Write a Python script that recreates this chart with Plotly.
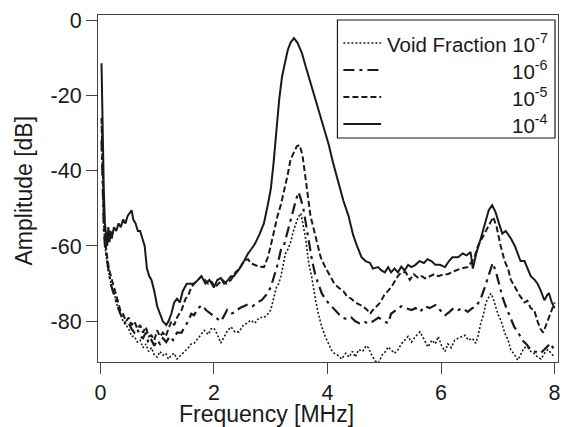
import plotly.graph_objects as go

# ---------------- data ----------------
f_e4 = [0.02,0.04,0.06,0.08,0.10,0.12,0.14,0.16,0.18,0.20,0.24,0.28,0.32,0.36,0.40,0.44,0.48,0.52,0.55,0.58,
        0.62,0.66,0.70,0.74,0.78,0.82,0.86,0.90,0.95,1.00,1.05,1.10,1.16,1.20,1.25,1.30,1.35,1.40,1.45,1.52,
        1.58,1.65,1.72,1.78,1.85,1.92,2.00,2.06,2.12,2.18,2.25,2.30,2.35,2.40,2.45,2.53,2.60,2.65,2.72,2.80,
        2.88,2.95,3.00,3.05,3.10,3.15,3.20,3.25,3.30,3.35,3.41,3.47,3.55,3.61,3.67,3.75,3.84,3.93,4.02,4.10,
        4.19,4.28,4.37,4.45,4.52,4.60,4.67,4.75,4.80,4.89,4.95,5.01,5.07,5.12,5.18,5.24,5.30,5.36,5.42,5.48,
        5.55,5.62,5.70,5.76,5.83,5.90,5.98,6.07,6.14,6.20,6.30,6.38,6.45,6.52,6.56,6.62,6.70,6.77,6.84,6.90,
        6.96,7.02,7.08,7.14,7.23,7.30,7.40,7.47,7.53,7.58,7.65,7.70,7.76,7.82,7.87,7.90,7.95,8.00]
a_e4 = [-11.5,-30,-45,-54,-57,-60,-55,-59,-56,-58,-55,-56,-54,-55,-53,-54,-52,-51,-50.5,-53,
        -54,-56,-56,-58,-60,-66,-68,-69,-72,-76,-78,-80,-81,-80,-78,-75,-74,-75,-72,-70,
        -70,-70,-69,-68,-70,-69,-71,-69,-68.5,-70,-69,-68,-68,-67,-66,-64,-62,-61,-59.5,-57,
        -54,-49,-45,-38,-29,-21,-15,-11,-8,-6,-4.8,-6,-8.8,-12,-15,-19,-24,-28,-33,-38,
        -43,-48,-52,-57,-60,-63,-64,-64.5,-66,-65.6,-66.5,-67,-65.6,-67,-66,-67,-65.5,-66.5,-65,-65.6,
        -65,-64,-64.5,-63.5,-64,-65,-65,-65.6,-64,-63,-63,-62,-62.5,-61.6,-66,-62,-58,-54,-50.5,-49.2,
        -51,-54,-56.7,-56,-58,-60,-64,-64,-66.5,-68,-69,-70,-72,-74.4,-73,-72.5,-75,-76.5]

f_e5 = [0.02,0.04,0.06,0.08,0.10,0.12,0.15,0.18,0.22,0.26,0.30,0.35,0.40,0.45,0.50,0.55,0.60,0.65,0.70,0.75,
        0.80,0.85,0.90,0.95,1.00,1.05,1.10,1.15,1.20,1.25,1.30,1.35,1.43,1.50,1.55,1.60,1.65,1.72,1.78,1.84,
        1.90,1.96,2.02,2.08,2.15,2.22,2.30,2.38,2.45,2.53,2.60,2.65,2.72,2.80,2.88,2.95,3.00,3.05,3.12,3.18,
        3.23,3.30,3.35,3.41,3.46,3.51,3.56,3.61,3.66,3.70,3.75,3.81,3.88,3.96,4.05,4.12,4.19,4.28,4.35,4.42,
        4.49,4.56,4.62,4.70,4.75,4.80,4.86,4.93,5.00,5.06,5.12,5.18,5.24,5.30,5.38,5.45,5.52,5.60,5.66,5.72,
        5.80,5.88,5.95,6.05,6.12,6.18,6.26,6.35,6.47,6.55,6.60,6.65,6.72,6.80,6.85,6.92,6.98,7.05,7.12,7.18,
        7.23,7.30,7.38,7.47,7.52,7.58,7.64,7.70,7.75,7.80,7.85,7.90,7.96,8.00]
a_e5 = [-26,-40,-52,-58,-61,-63,-66,-68,-70,-72,-74,-77,-78,-80,-79,-81,-80,-82,-81,-83,
        -81.5,-84,-83.7,-85,-82.4,-84,-83,-84,-82,-80,-81,-79,-77,-74,-73,-71,-70,-69,-68,-69,
        -70,-69.5,-71,-70,-69,-70,-69,-67,-66,-64,-63.5,-64.6,-65,-65.5,-65.6,-63,-60,-56.6,-52,-49,
        -46,-41,-37,-35,-33.5,-33.2,-36,-41.6,-47,-52,-55,-59,-63,-65.6,-68,-70,-71,-72,-73.5,-74,
        -75,-75.5,-76,-77,-78,-77,-76,-75,-73,-72,-71,-69.5,-68,-67,-67,-69,-67.5,-68.5,-68,-68.6,
        -68,-67.5,-68,-67.5,-67.5,-67,-66.5,-66,-65.6,-64,-62.5,-60,-58,-55.5,-54,-52.3,-55,-60,-64,-66,
        -69,-71,-73,-75,-74.5,-76.5,-77,-80,-82,-83,-81,-79,-77,-75]

f_e6 = [0.02,0.04,0.06,0.08,0.10,0.12,0.15,0.18,0.22,0.26,0.30,0.35,0.40,0.45,0.50,0.55,0.60,0.65,0.70,0.75,
        0.80,0.85,0.90,0.95,1.00,1.05,1.10,1.16,1.22,1.28,1.35,1.43,1.48,1.55,1.60,1.65,1.72,1.79,1.86,1.95,
        2.05,2.12,2.18,2.23,2.30,2.38,2.45,2.53,2.60,2.68,2.76,2.84,2.92,3.00,3.06,3.12,3.18,3.23,3.30,3.35,
        3.40,3.45,3.49,3.53,3.58,3.63,3.67,3.73,3.79,3.85,3.90,3.98,4.07,4.15,4.25,4.35,4.42,4.49,4.56,4.64,
        4.72,4.80,4.90,5.00,5.07,5.12,5.20,5.30,5.38,5.48,5.55,5.63,5.72,5.80,5.90,5.98,6.07,6.15,6.22,6.30,
        6.38,6.47,6.55,6.62,6.70,6.77,6.84,6.91,6.97,7.03,7.08,7.14,7.22,7.29,7.36,7.43,7.50,7.58,7.65,7.75,
        7.82,7.88,7.93,7.97,8.00]
a_e6 = [-32,-45,-55,-60,-62,-65,-67,-70,-72,-74,-76,-78,-79,-81,-80.5,-82,-83,-82,-84,-84.5,
        -83,-86,-85,-86.5,-85,-86,-84.5,-85.5,-84,-85,-83,-83,-81.5,-80,-78,-78.4,-76.5,-75.7,-77,-78,
        -79,-80,-78.5,-77,-78,-77.5,-76.5,-76,-75.5,-76,-75,-74.4,-73,-71,-68,-65,-61,-60,-56,-53,
        -50.5,-47.5,-45.7,-47.5,-50.5,-55,-59,-64,-68,-70.5,-72.6,-74.5,-76,-77.5,-78.9,-79.5,-79,-80,-80.5,-80,
        -80.6,-80,-79,-80,-80.5,-78,-77,-76,-76.5,-77,-76.5,-77.5,-76,-76.5,-75.7,-77,-78.4,-77.5,-76.5,-77,
        -76.5,-77.5,-76.5,-76,-74,-71,-68,-64.5,-67,-71,-73.5,-76,-79,-81.5,-83,-85,-86,-87.6,-88,-88.5,
        -87.5,-86.5,-85.8,-87,-88]

f_e7 = [0.02,0.04,0.06,0.08,0.10,0.13,0.16,0.20,0.25,0.30,0.35,0.40,0.45,0.50,0.55,0.60,0.65,0.70,0.75,0.80,
        0.85,0.90,0.95,1.00,1.05,1.10,1.15,1.20,1.25,1.30,1.35,1.42,1.48,1.55,1.60,1.65,1.72,1.78,1.83,1.90,
        1.95,2.00,2.06,2.12,2.18,2.24,2.30,2.37,2.44,2.52,2.58,2.65,2.72,2.80,2.88,2.93,3.00,3.05,3.10,3.14,
        3.18,3.22,3.26,3.30,3.35,3.40,3.44,3.48,3.53,3.57,3.61,3.64,3.67,3.72,3.76,3.79,3.84,3.90,3.96,4.02,
        4.07,4.12,4.18,4.25,4.32,4.38,4.44,4.49,4.55,4.62,4.68,4.72,4.78,4.84,4.90,4.96,5.02,5.07,5.12,5.18,
        5.24,5.30,5.36,5.42,5.48,5.55,5.63,5.70,5.77,5.84,5.90,5.95,6.01,6.07,6.12,6.18,6.24,6.30,6.36,6.42,
        6.48,6.55,6.61,6.65,6.70,6.75,6.79,6.84,6.88,6.92,6.96,7.00,7.06,7.12,7.18,7.23,7.30,7.35,7.40,7.46,
        7.52,7.58,7.64,7.70,7.76,7.82,7.88,7.93,7.97,8.00]
a_e7 = [-28,-42,-54,-60,-63,-66,-68,-71,-73,-76,-78,-80,-81,-82,-84,-84,-85.5,-85,-87,-86,
        -88,-87,-89,-89.5,-88,-89,-88.5,-90,-89,-88.5,-90,-89,-88,-87,-86,-85.8,-84.5,-83.5,-82.4,-83.5,
        -82,-81.8,-83.5,-85.8,-84,-82.5,-81.5,-82.8,-82.8,-81,-80.5,-79.7,-80.5,-79,-79,-78.4,-77,-74,-71,-70,
        -68,-65,-62,-61,-59,-56,-54,-52.5,-51.3,-54,-57.6,-61,-64.6,-68,-72,-74.4,-78,-81.5,-84,-86,
        -87.6,-88.5,-89,-90,-88.5,-89.5,-88,-89.5,-87.5,-88,-86.5,-87,-89,-90.5,-91,-89,-88,-86.8,-87.6,-88.5,
        -87.6,-86,-85,-84,-85.5,-84,-82.8,-85,-86.8,-85,-86,-84,-86.5,-88,-86,-87,-85,-84.5,-84,-83.7,
        -85,-84.5,-85.8,-84,-80.5,-78,-75,-73.5,-72.6,-74,-76,-78,-80,-83,-85,-87.6,-89,-90.3,-89,-87,
        -86.8,-88,-88.5,-89.5,-90,-88.5,-87.5,-88.4,-89,-89.5]

x_ticks = [0, 2, 4, 6, 8]
y_ticks = [0, -20, -40, -60, -80]
legend_labels = ["Void Fraction 10<sup>-7</sup>", "10<sup>-6</sup>", "10<sup>-5</sup>", "10<sup>-4</sup>"]

# ---------------- styling ----------------
INK = "#1a1a1a"
FONT = "Liberation Sans, Arial, sans-serif"
series = [
    (f_e7, a_e7, dict(color=INK, width=1.6, dash="2px,2px")),
    (f_e6, a_e6, dict(color=INK, width=2.2, dash="11px,5px,3px,5px")),
    (f_e5, a_e5, dict(color=INK, width=2.0, dash="6px,3px")),
    (f_e4, a_e4, dict(color=INK, width=2.0, dash="solid")),
]

fig = go.Figure()
for fx, ay, ln in series:
    fig.add_trace(go.Scatter(x=fx, y=ay, mode="lines", line=ln, showlegend=False, hoverinfo="skip"))

W, H = 567, 427
L, R, T, B = 98, 6, 15, 65
pw, ph = W - L - R, H - T - B

def px(xp):
    return (xp - L) / pw

def py(yp):
    return (H - B - yp) / ph

shapes = []
annotations = []
# legend frame
shapes.append(dict(type="rect", xref="paper", yref="paper", x0=px(339), x1=px(558), y0=py(138), y1=py(20),
                   line=dict(color=INK, width=1.2), fillcolor="white", layer="above"))
rows = [43, 70, 97, 124]
for (fx, ay, ln), lab, ry in zip(series, legend_labels, rows):
    shapes.append(dict(type="line", xref="paper", yref="paper", x0=px(345), x1=px(383), y0=py(ry), y1=py(ry),
                       line=ln, layer="above"))
    annotations.append(dict(xref="paper", yref="paper", x=px(553), y=py(ry), xanchor="right", yanchor="middle",
                            text=lab, showarrow=False, font=dict(family=FONT, size=20.5, color=INK)))

# axis titles
annotations.append(dict(xref="paper", yref="paper", x=px(268), y=py(414), xanchor="center", yanchor="middle",
                        text="Frequency [MHz]", showarrow=False, borderpad=0,
                        font=dict(family=FONT, size=23, color=INK)))
annotations.append(dict(xref="paper", yref="paper", x=px(24), y=py(190), xanchor="center", yanchor="middle",
                        text="Amplitude [dB]", textangle=-90, showarrow=False,
                        font=dict(family=FONT, size=23, color=INK)))

axis_common = dict(showgrid=False, zeroline=False, showline=True, mirror=True, linecolor="#444", linewidth=1,
                   ticks="outside", ticklen=11, tickwidth=1, tickcolor="#444",
                   tickfont=dict(family=FONT, size=21.5, color=INK))

fig.update_layout(
    width=W, height=H, margin=dict(l=L, r=R, t=T, b=B),
    paper_bgcolor="white", plot_bgcolor="white",
    xaxis=dict(range=[-0.042, 8.06], tickvals=x_ticks, ticktext=[str(v) for v in x_ticks], **axis_common),
    yaxis=dict(range=[-90.8, 1.33], tickvals=y_ticks, ticktext=[str(v) for v in y_ticks], **axis_common),
    shapes=shapes, annotations=annotations, showlegend=False,
)

fig.write_html("out.html", config={"displayModeBar": False},
               post_script="document.body.style.margin='0';document.body.style.overflow='hidden';")
